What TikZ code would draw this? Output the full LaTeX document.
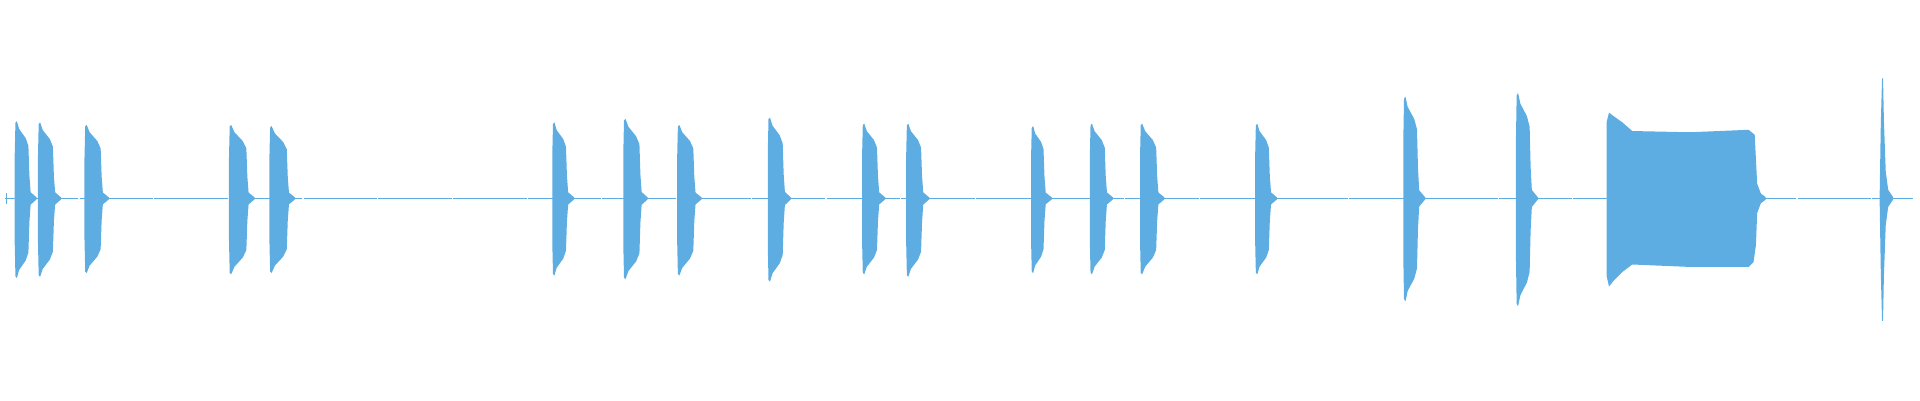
\documentclass[tikz,border=0pt]{standalone}
\definecolor{wave}{RGB}{93,173,226}
\newcommand{\wburst}[4]{%
  \pgfmathsetmacro{\at}{162-#3}\pgfmathsetmacro{\ab}{#4-162}\pgfmathsetmacro{\w}{#2-#1}%
  \fill[wave] (#1,162) -- (#1,{162-0.55*\at}) -- ({#1+0.6},{#3+0.02*\at}) -- ({#1+1.8},#3) -- ({#1+0.3*\w},{#3+0.1*\at}) -- ({#1+0.75*\w},{#3+0.22*\at}) -- ({#2-0.8},{#3+0.32*\at})
   -- (#2,{162-0.3*\at}) -- ({#2+1},{162-0.08*\at}) -- ({#2+6},161.3) -- ({#2+6},162.7) -- ({#2+1},{162+0.08*\ab})
   -- (#2,{162+0.3*\ab}) -- ({#2-0.8},{#4-0.32*\ab}) -- ({#1+0.75*\w},{#4-0.22*\ab}) -- ({#1+0.3*\w},{#4-0.1*\ab}) -- ({#1+1.8},#4) -- ({#1+0.6},{#4-0.02*\ab}) -- (#1,{162+0.55*\ab}) -- cycle;}
\begin{document}
\begin{tikzpicture}[x=1pt,y=-1pt]
\useasboundingbox (0,0) rectangle (1568,326.7);
\draw[wave,line width=0.5pt,dash pattern=on 60pt off 1pt] (4,162) -- (1562,162);
\fill[wave] (5,158) rectangle (6,167);
\wburst{12}{24}{99}{227}
\wburst{31}{44}{100}{226}
\wburst{69}{83}{102}{223}
\wburst{187}{202}{102}{224}
\wburst{220}{235}{103}{223}
\wburst{451}{463}{100}{225}
\wburst{509}{523}{97}{228}
\wburst{553}{567}{102}{225}
\wburst{627}{640}{96}{230}
\wburst{704}{717}{101}{224}
\wburst{740}{753}{101}{226}
\wburst{842}{853}{103}{223}
\wburst{890}{903}{101}{224}
\wburst{931}{945}{101}{224}
\wburst{1025}{1037}{101}{224}
\wburst{1146}{1158}{79}{246}
\wburst{1238}{1250}{76}{250}
\fill[wave] (1312,162) -- (1312,100) -- (1314,92) -- (1318,95) -- (1325,100) -- (1333,107) -- (1380,108) -- (1428,106)
  -- (1433,110) -- (1434,130) -- (1435,150) -- (1438,158) -- (1442,161) -- (1442,163) -- (1438,166) -- (1435,174)
  -- (1434,200) -- (1432,214) -- (1428,218) -- (1380,218) -- (1333,216) -- (1325,222) -- (1318,229) -- (1314,234) -- (1312,225) -- cycle;
\fill[wave] (1535,162) -- (1536,100) -- (1537,64) -- (1537.8,64) -- (1538.5,98) -- (1540,140) -- (1542,155) -- (1546,161) -- (1546,163)
  -- (1542,169) -- (1540,184) -- (1538.5,226) -- (1537.8,262) -- (1537,262) -- (1536,224) -- cycle;
\end{tikzpicture}
\end{document}
